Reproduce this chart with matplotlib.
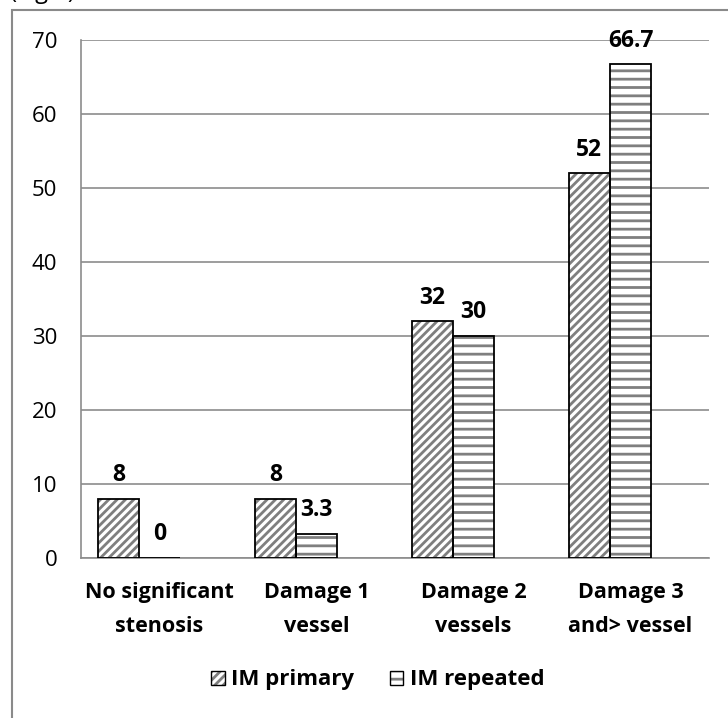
import matplotlib.pyplot as plt
from matplotlib.patches import Rectangle, Patch

categories = ['No significant\nstenosis', 'Damage 1\nvessel', 'Damage 2\nvessels', 'Damage 3\nand> vessel']
im_primary = [8, 8, 32, 52]
im_repeated = [0, 3.3, 30, 66.7]
series_names = ['IM primary', 'IM repeated']

plt.rcParams['font.family'] = ['Open Sans', 'DejaVu Sans']
plt.rcParams['hatch.linewidth'] = 2.0

fig = plt.figure(figsize=(7.28, 7.18), dpi=100)
ax = fig.add_axes([81 / 728, 1 - 558 / 718, 628 / 728, 518 / 718])

# chart area border (runs past the right and bottom edges)
fig.patches.append(Rectangle((12 / 728, -0.2), 1.2, 1.2 - 10 / 718, transform=fig.transFigure,
                             fill=False, edgecolor='#8a8a8a', linewidth=1.5, zorder=0))
fig.text(10 / 728, 1 + 1.5 / 718, '(Fig.1)', fontsize=17, ha='left', va='baseline', color='black')

x = range(len(categories))
w = 0.262
hatch_gray = '#7f7f7f'
x1 = [i - w for i in x]
x2 = [i for i in x]

# hatched fill first, black outline on top
ax.bar(x1, im_primary, w, color='white', edgecolor=hatch_gray, hatch='////', linewidth=0, zorder=2)
ax.bar(x1, im_primary, w, fill=False, edgecolor='black', linewidth=1.3, zorder=3)
ax.bar(x2, im_repeated, w, color='white', edgecolor=hatch_gray, hatch='--', linewidth=0, zorder=2)
ax.bar(x2, im_repeated, w, fill=False, edgecolor='black', linewidth=1.3, zorder=3)

for xs, vals in ((x1, im_primary), (x2, im_repeated)):
    for xi, v in zip(xs, vals):
        ax.annotate(f'{v:g}', (xi, v), xytext=(0, 17), textcoords='offset points',
                    ha='center', va='center', fontsize=16.5, fontweight='bold')

ax.set_xlim(-0.5, 3.5)
ax.set_ylim(0, 70)
ax.set_yticks(range(0, 71, 10))
ax.set_xticks(list(x))
ax.set_xticklabels(categories, fontsize=15.5, fontweight='bold', linespacing=1.85)
ax.tick_params(axis='y', length=0, pad=17, labelsize=16)
ax.tick_params(axis='x', length=0, pad=17)
ax.grid(axis='y', color='#8c8c8c', linewidth=1.2, zorder=0)
ax.set_axisbelow(True)
for s in ('top', 'right'):
    ax.spines[s].set_visible(False)
for s in ('left', 'bottom'):
    ax.spines[s].set_color('#8c8c8c')
    ax.spines[s].set_linewidth(1.2)

handles = [
    (Patch(facecolor='white', edgecolor=hatch_gray, hatch='////', linewidth=0),
     Patch(fill=False, edgecolor='black', linewidth=1)),
    (Patch(facecolor='white', edgecolor=hatch_gray, hatch='--', linewidth=0),
     Patch(fill=False, edgecolor='black', linewidth=1)),
]
leg = fig.legend(handles, series_names, loc='center', bbox_to_anchor=(378 / 728, 1 - 680 / 718),
                 ncol=2, frameon=False, handlelength=0.6, handleheight=0.6, handletextpad=0.3,
                 columnspacing=1.6, prop={'size': 16, 'weight': 'bold'})

fig.savefig('out.png', dpi=100)
